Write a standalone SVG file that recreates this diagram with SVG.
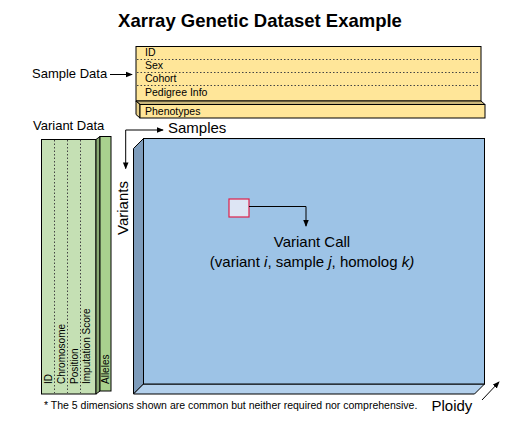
<svg xmlns="http://www.w3.org/2000/svg" width="520" height="435" viewBox="0 0 520 435">
<style>
text{font-family:"Liberation Sans",Arial,sans-serif;fill:#000}
.edge{stroke:#000;stroke-width:1;fill:none}
.box{stroke:#000;stroke-width:1}
.dot{stroke:#444;stroke-width:1;stroke-dasharray:1.5 2;fill:none}
.s10{font-size:10.5px}
.v10{font-size:10px}
.lab{font-size:13px}
.big{font-size:15px}
</style>
<defs>
<marker id="ah" viewBox="0 0 8 8" refX="7" refY="4" markerWidth="7" markerHeight="7" markerUnits="userSpaceOnUse" orient="auto-start-reverse">
<path d="M0,0.8 L8,4 L0,7.2 Z" fill="#000"/>
</marker>
</defs>
<rect width="520" height="435" fill="#fff"/>
<g id="title">
<text x="260" y="27" text-anchor="middle" font-size="18.5" font-weight="bold">Xarray Genetic Dataset Example</text>
</g>
<g id="sample-data">
<rect class="box" x="136" y="46.5" width="345" height="54.5" fill="#ffe699"/>
<line class="dot" x1="137" y1="59.5" x2="480" y2="59.5"/>
<line class="dot" x1="137" y1="72.5" x2="480" y2="72.5"/>
<line class="dot" x1="137" y1="85.5" x2="480" y2="85.5"/>
<polygon class="box" points="136,101 481,101 485,104.5 140,104.5" fill="#cbb77b"/>
<polygon class="box" points="136,101 140,104.5 140,118 136,114.5" fill="#e8d08a"/>
<rect class="box" x="140" y="104.5" width="345" height="13.5" fill="#ffe699"/>
<text class="s10" x="145" y="55.5">ID</text>
<text class="s10" x="145" y="69">Sex</text>
<text class="s10" x="145" y="82">Cohort</text>
<text class="s10" x="145" y="95.5">Pedigree Info</text>
<text class="s10" x="145" y="115">Phenotypes</text>
</g>
<g id="sample-data-label">
<text class="lab" x="32" y="78">Sample Data</text>
</g>
<g id="variant-data">
<rect class="box" x="41.5" y="139.5" width="54.5" height="254.5" fill="#c5e0b4"/>
<line class="dot" x1="54.5" y1="140" x2="54.5" y2="393"/>
<line class="dot" x1="67.5" y1="140" x2="67.5" y2="393"/>
<line class="dot" x1="80.5" y1="140" x2="80.5" y2="393"/>
<polygon class="box" points="96,139.5 100,136.5 100,391 96,394" fill="#88a872"/>
<rect class="box" x="100" y="136.5" width="11" height="254.5" fill="#a9d18e"/>
<text class="v10" transform="translate(52,384) rotate(-90)">ID</text>
<text class="v10" transform="translate(65.3,384) rotate(-90)">Chromosome</text>
<text class="v10" transform="translate(77.6,384) rotate(-90)">Position</text>
<text class="v10" transform="translate(90.3,384) rotate(-90)">Imputation Score</text>
<text class="v10" transform="translate(108.6,384) rotate(-90)">Alleles</text>
</g>
<g id="variant-data-label">
<text class="lab" x="33" y="130">Variant Data</text>
</g>
<g id="genotype-array">
<polygon class="box" points="133.5,148.5 143.5,138.5 143.5,384 133.5,394" fill="#7e9cbb"/>
<polygon class="box" points="143.5,384 484.5,384 474.5,394 133.5,394" fill="#b3d0ec"/>
<rect class="box" x="143.5" y="138.5" width="341" height="245.5" fill="#9dc3e6"/>
</g>
<g id="variant-call-cell">
<rect x="229" y="199" width="20" height="18" fill="#dde5f4" stroke="#e0204a" stroke-width="1.2"/>
</g>
<g id="variant-call-label">
<text class="big" x="312" y="247" text-anchor="middle" font-size="15.5">Variant Call</text>
<text class="big" x="312" y="267" text-anchor="middle" font-size="15.5">(variant <tspan font-style="italic">i</tspan>, sample <tspan font-style="italic">j</tspan>, homolog <tspan font-style="italic">k)</tspan></text>
</g>
<g id="axis-labels">
<text class="big" x="168" y="132.5">Samples</text>
<text class="big" transform="translate(128.4,235) rotate(-90)">Variants</text>
<text class="big" x="431.5" y="410.5">Ploidy</text>
</g>
<g id="footnote">
<text x="44" y="409" font-size="10.5">* The 5 dimensions shown are common but neither required nor comprehensive.</text>
</g>
<g id="connectors">
<line class="edge" x1="110" y1="74.5" x2="132" y2="74.5" marker-end="url(#ah)"/>
<polyline class="edge" points="125.7,168.5 125.7,130 163,130" marker-start="url(#ah)" marker-end="url(#ah)"/>
<polyline class="edge" points="249,206.5 306,206.5 306,226" marker-end="url(#ah)"/>
<line class="edge" x1="482" y1="400" x2="499" y2="382" marker-end="url(#ah)"/>
</g>
</svg>
